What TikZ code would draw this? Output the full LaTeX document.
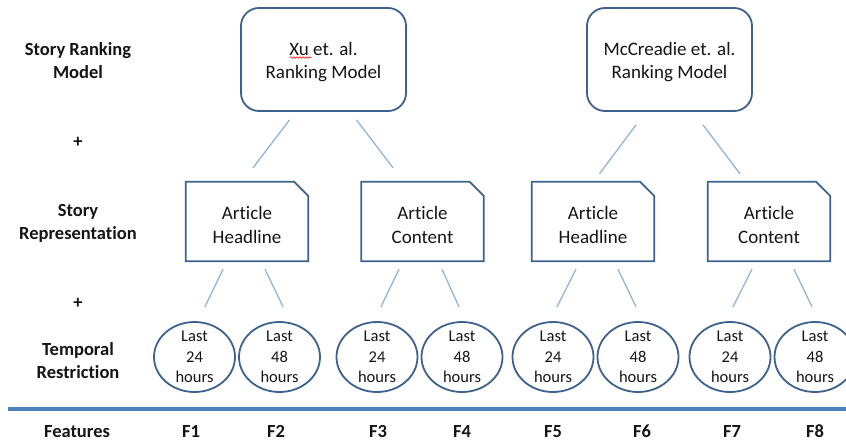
\documentclass[tikz,border=0pt]{standalone}
\usepackage{fontspec}
\setmainfont[Ligatures=NoCommon]{Carlito}
\usetikzlibrary{calc,decorations.pathmorphing}
\definecolor{boxline}{RGB}{62,98,143}
\definecolor{connline}{RGB}{149,179,215}
\definecolor{ruleline}{RGB}{79,129,189}
\definecolor{txt}{RGB}{20,20,20}
\begin{document}
\begin{tikzpicture}[x=1pt,y=-1pt,
  model/.style={draw=boxline, line width=1.8pt, rounded corners=18pt, minimum width=165pt, minimum height=103pt, align=center, inner sep=0pt, text=txt, text height=42pt, text depth=4pt, font=\fontsize{19}{23}\selectfont},
  article/.style={minimum width=122pt, minimum height=79pt, align=center, inner sep=0pt, text=txt, text height=47pt, text depth=4pt, font=\fontsize{19}{23.5}\selectfont},
  snipped/.style={draw=boxline, line width=1.8pt, line join=miter},
  period/.style={minimum width=81pt, minimum height=70pt, align=center, inner sep=0pt, text=txt, font=\fontsize{16.5}{20.5}\selectfont},
  ring/.style={draw=boxline, line width=1.8pt},
  conn/.style={draw=connline, line width=1.3pt},
  sidelabel/.style={align=center, inner sep=0pt, text=txt, font=\bfseries\fontsize{18.5}{23}\selectfont},
  featlabel/.style={inner sep=0pt, text=txt, font=\bfseries\fontsize{18.5}{23}\selectfont}
]
\useasboundingbox (0,0) rectangle (846,442);
\clip (0,0) rectangle (846,442);

% left labels
\node[sidelabel] (Lmodel) at (78,60.5) {Story Ranking\\Model};
\node[sidelabel] (Lplus1) at (78,142) {+};
\node[sidelabel] (Lrep) at (78,223) {Story\\Representation};
\node[sidelabel] (Lplus2) at (78,303) {+};
\node[sidelabel] (Ltemp) at (78,361) {Temporal\\Restriction};
\node[sidelabel] (Lfeat) at (77,431.5) {Features};

% ranking models
\node[model] (M1) at (323.5,59.5) {Xu et. al.\\Ranking Model};
\node[model] (M2) at (669.5,59.5) {McCreadie et. al.\\Ranking Model};
\draw[red, line width=0.6pt, decorate, decoration={snake, amplitude=0.7pt, segment length=3pt}]
  ($(M1.center)+(-33.5,-2)$) -- ($(M1.center)+(-12.5,-2)$);

% article boxes
\node[article] (A1) at (247,221.5) {Article\\Headline};
\node[article] (A2) at (422.5,221.5) {Article\\Content};
\node[article] (A3) at (593,221.5) {Article\\Headline};
\node[article] (A4) at (769,221.5) {Article\\Content};
\foreach \a in {A1,A2,A3,A4}{
  \draw[snipped] (\a.south west) -- (\a.north west) -- ($(\a.north east)+(-14,0)$)
    -- ($(\a.north east)+(0,14)$) -- (\a.south east) -- cycle;
}

% temporal restrictions
\node[period] (C1) at (194.5,357) {Last\\24\\hours};
\node[period] (C2) at (279.5,357) {Last\\48\\hours};
\node[period] (C3) at (377,357) {Last\\24\\hours};
\node[period] (C4) at (462,357) {Last\\48\\hours};
\node[period] (C5) at (553,357) {Last\\24\\hours};
\node[period] (C6) at (638,357) {Last\\48\\hours};
\node[period] (C7) at (730,357) {Last\\24\\hours};
\node[period] (C8) at (815,357) {Last\\48\\hours};
\foreach \c in {C1,C2,C3,C4,C5,C6,C7,C8}{
  \draw[ring] (\c.center) ellipse [x radius=40.5pt, y radius=35pt];
}

% connectors model -> article
\draw[conn] ($(M1.south)+(-34,8)$) -- ($(A1.north)+(6,-14)$);
\draw[conn] ($(M1.south)+(33,8)$) -- ($(A2.north)+(-29.5,-14)$);
\draw[conn] ($(M2.south)+(-33.5,13)$) -- ($(A3.north)+(6.5,-8)$);
\draw[conn] ($(M2.south)+(33.5,13)$) -- ($(A4.north)+(-29,-8)$);

% connectors article -> restriction
\draw[conn] ($(A1.south)+(-24,8)$) -- ($(C1.north)+(10.5,-15)$);
\draw[conn] ($(A1.south)+(18,8)$) -- ($(C2.north)+(3.5,-15)$);
\draw[conn] ($(A2.south)+(-23.5,8)$) -- ($(C3.north)+(4,-15)$);
\draw[conn] ($(A2.south)+(19.5,8)$) -- ($(C4.north)+(-3,-15)$);
\draw[conn] ($(A3.south)+(-17,8)$) -- ($(C5.north)+(4,-15)$);
\draw[conn] ($(A3.south)+(25,8)$) -- ($(C6.north)+(-2,-15)$);
\draw[conn] ($(A4.south)+(-17,8)$) -- ($(C7.north)+(3,-15)$);
\draw[conn] ($(A4.south)+(25,8)$) -- ($(C8.north)+(-3,-15)$);

% separator
\draw[draw=ruleline, line width=3.8pt] (8,409) -- (846,409);

% features
\node[featlabel] (F1) at (191,431.5) {F1};
\node[featlabel] (F2) at (276,431.5) {F2};
\node[featlabel] (F3) at (378,431.5) {F3};
\node[featlabel] (F4) at (462,431.5) {F4};
\node[featlabel] (F5) at (553,431.5) {F5};
\node[featlabel] (F6) at (642,431.5) {F6};
\node[featlabel] (F7) at (732,431.5) {F7};
\node[featlabel] (F8) at (815,431.5) {F8};
\end{tikzpicture}
\end{document}
